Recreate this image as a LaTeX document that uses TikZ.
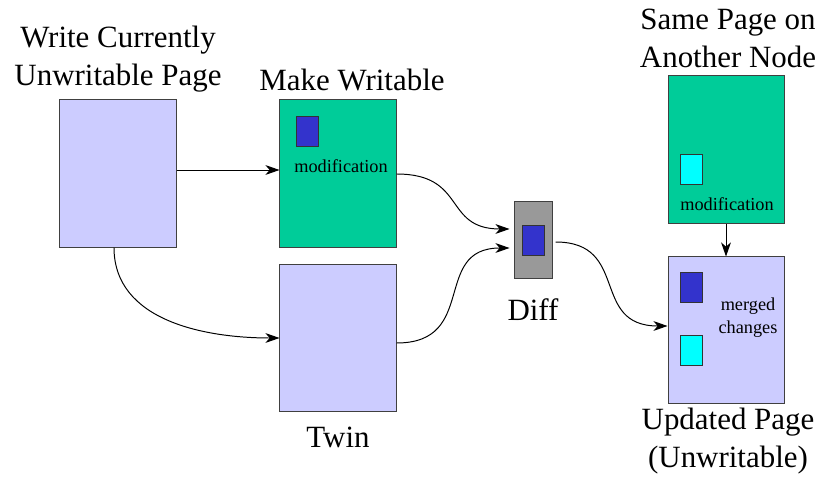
\documentclass[tikz,border=0pt]{standalone}
\usepackage{fontspec}
\setmainfont{Liberation Serif}
\usetikzlibrary{arrows.meta}
\definecolor{pagelav}{HTML}{CCCCFF}
\definecolor{pagegrn}{HTML}{00CC99}
\definecolor{modblue}{HTML}{3333CC}
\definecolor{modcyan}{HTML}{00FFFF}
\definecolor{diffgray}{HTML}{999999}

\begin{document}
\begin{tikzpicture}[x=0.025cm,y=-0.025cm,
	page/.style={draw=black!75,line width=0.7pt,minimum width=2.9cm,minimum height=3.675cm,inner sep=0pt},
	blk/.style={draw=black!80,line width=0.7pt,minimum width=0.55cm,minimum height=0.75cm,inner sep=0pt},
	big/.style={font=\fontsize{22}{27}\selectfont,align=center,inner sep=0pt},
	small/.style={font=\fontsize{13}{16.4}\selectfont,align=center,inner sep=0pt},
	arr/.style={-{Stealth[length=10pt,width=7pt,inset=3pt]},line width=0.7pt}]
	\useasboundingbox (0,0) rectangle (820,484);
	% pages
	\node[page,fill=pagelav] (orig) at (118,173.5) {};
	\node[page,fill=pagegrn] (mkw) at (338,173.5) {};
	\node[page,fill=pagelav] (twin) at (338,338) {};
	\node[draw=black!75,line width=0.7pt,fill=diffgray,minimum width=0.95cm,minimum height=1.9cm,inner sep=0pt] (diff) at (533,240) {};
	\node[page,fill=pagegrn] (remote) at (726,149.5) {};
	\node[page,fill=pagelav,minimum height=3.65cm] (upd) at (726,330) {};
	% modified blocks
	\node[blk,fill=modblue] (mkwblk) at (307,131) {};
	\node[blk,fill=modblue] (diffblk) at (533,240) {};
	\node[blk,fill=modcyan] (remoteblk) at (691,169.5) {};
	\node[blk,fill=modblue] (updblk1) at (691,287.5) {};
	\node[blk,fill=modcyan] (updblk2) at (691,350.5) {};
	% labels
	\node[big] (origlbl) at (118,59) {Write Currently\\Unwritable Page};
	\node[big] (mkwlbl) at (352,80) {Make Writable};
	\node[big] (twinlbl) at (338,437) {Twin};
	\node[big] (difflbl) at (533,310) {Diff};
	\node[big] (remotelbl) at (728,38) {Same Page on\\Another Node};
	\node[big] (updlbl) at (728,441) {Updated Page\\(Unwritable)};
	\node[small] (mkwtxt) at (341,166) {modification};
	\node[small] (remotetxt) at (727,204) {modification};
	\node[small] (updtxt) at (748,318) {merged\\changes};
	% connectors
	\draw[arr] ([yshift=0.0875cm]orig.east) -- ([yshift=0.0875cm]mkw.west);
	\draw[arr] ([xshift=-0.1cm]orig.south) to[out=-90,in=180] (twin.west);
	\draw[arr,shorten >=0.1cm] ([yshift=-0.0125cm]mkw.east) to[out=0,in=180,looseness=1.4] ([yshift=0.275cm]diff.west);
	\draw[arr,shorten >=0.1cm] ([yshift=-0.125cm]twin.east) to[out=0,in=180,looseness=1.4] ([yshift=-0.2cm]diff.west);
	\draw[arr,shorten <=0.075cm] ([yshift=-0.05cm]diff.east) to[out=0,in=180,looseness=1.4] ([yshift=0.1cm]upd.west);
	\draw[arr] (remote.south) -- (upd.north);
\end{tikzpicture}
\end{document}
